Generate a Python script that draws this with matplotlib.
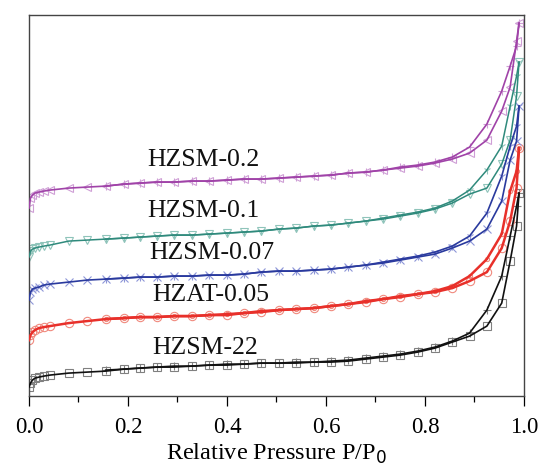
import matplotlib
matplotlib.use('Agg')
import matplotlib.pyplot as plt
from matplotlib.ticker import MultipleLocator

# relative pressure points (adsorption / desorption)
pp_ads = [0, 0.003, 0.007, 0.012, 0.02, 0.03, 0.042, 0.08, 0.117, 0.155, 0.192, 0.224,
          0.258, 0.293, 0.329, 0.364, 0.40, 0.434, 0.469, 0.505, 0.54, 0.575, 0.61, 0.645,
          0.68, 0.715, 0.75, 0.785, 0.82, 0.855, 0.89, 0.925, 0.955, 0.972, 0.985, 0.99]
pp_des = [0.99, 0.985, 0.972, 0.955, 0.925, 0.89, 0.855, 0.82, 0.785, 0.75, 0.715, 0.68,
          0.645, 0.61, 0.575, 0.54, 0.505, 0.469, 0.434, 0.40, 0.364, 0.329, 0.293, 0.258,
          0.224, 0.192, 0.155]

# adsorbed volume (offset, arbitrary units)
hzsm22_ads = [9, 13, 16, 18, 19, 20, 21, 23, 24, 25, 27, 28, 29, 29, 30, 31, 31, 32, 33, 33,
              33, 34, 34, 35, 37, 39, 41, 44, 48, 54, 60, 70, 93, 135, 170, 203]
hzsm22_des = [203, 190, 160, 120, 86, 63, 55, 49, 45, 42, 40, 38, 36, 35, 34, 34, 33, 33,
              32, 32, 31, 30, 30, 29, 28, 27, 26]

hzat005_ads = [56, 61, 64, 66, 68, 69, 70, 73, 75, 77, 78, 79, 79, 80, 80, 81, 81, 83, 84, 86,
               87, 88, 90, 92, 94, 97, 99, 102, 104, 108, 115, 124, 148, 175, 208, 248]
hzat005_des = [248, 225, 205, 162, 137, 120, 110, 105, 102, 100, 97, 95, 92, 90, 88, 87, 86,
               85, 83, 82, 81, 80, 80, 79, 79, 78, 77]

hzsm007_ads = [96, 104, 107, 108, 109, 111, 112, 114, 116, 117, 118, 119, 119, 120, 120, 121,
               121, 122, 124, 125, 125, 126, 127, 129, 131, 133, 136, 139, 142, 148, 155, 167,
               195, 236, 255, 290]
hzsm007_des = [290, 270, 250, 220, 183, 160, 150, 144, 140, 137, 134, 131, 129, 127, 126, 125,
               125, 124, 122, 121, 121, 120, 120, 119, 119, 118, 117]

hzsm01_ads = [139, 145, 147, 148, 149, 150, 151, 155, 156, 157, 158, 159, 160, 161, 161, 162,
              163, 164, 165, 167, 168, 170, 171, 173, 175, 177, 180, 183, 187, 193, 202, 208,
              232, 256, 300, 334]
hzsm01_des = [334, 320, 290, 250, 226, 206, 195, 188, 184, 181, 178, 175, 173, 171, 170, 168,
              167, 165, 164, 163, 162, 161, 161, 160, 159, 158, 157]

hzsm02_ads = [188, 198, 201, 203, 204, 205, 206, 208, 209, 210, 212, 213, 214, 214, 215, 215,
              216, 217, 217, 218, 219, 220, 221, 223, 224, 226, 228, 230, 233, 237, 243, 256,
              285, 309, 355, 373]
hzsm02_des = [373, 350, 330, 305, 272, 249, 239, 234, 231, 229, 226, 224, 223, 221, 220, 219,
              218, 217, 217, 216, 215, 215, 214, 214, 213, 212, 210]

labels = ['HZSM-22', 'HZAT-0.05', 'HZSM-0.07', 'HZSM-0.1', 'HZSM-0.2']
label_x = [0.356, 0.368, 0.369, 0.352, 0.352]
label_y = [48, 101, 143, 185, 236]

series = [
    (hzsm22_ads, hzsm22_des, '#111111', '#808080', 's', '+', 1.2),
    (hzat005_ads, hzat005_des, '#e8302a', '#f08a7e', 'o', '.', 1.8),
    (hzsm007_ads, hzsm007_des, '#2a3a9e', '#8e96d8', 'x', '1', 1.2),
    (hzsm01_ads, hzsm01_des, '#2f8a7c', '#8fc4ba', 'v', '1', 1.1),
    (hzsm02_ads, hzsm02_des, '#a043a8', '#cf9fd6', '<', '+', 1.2),
]

plt.rcParams['font.family'] = ['Liberation Serif', 'DejaVu Serif']

fig = plt.figure(figsize=(5.43, 4.71), dpi=100)
ax = fig.add_axes([0.0534, 0.159, 0.9116, 0.809])

for ads, des, col, mcol, m_a, m_d, lw in series:
    ax.plot(pp_ads, ads, color=col, lw=lw, zorder=3)
    ax.plot(pp_des, des, color=col, lw=lw, zorder=3)
    ax.plot(pp_ads, ads, ls='none', marker=m_a, ms=6, mfc='none', mec=mcol, mew=0.8, zorder=2)
    ax.plot(pp_des, des, ls='none', marker=m_d, ms=6, mfc='none', mec=mcol, mew=0.8, zorder=2)

for name, lx, ly in zip(labels, label_x, label_y):
    ax.text(lx, ly, name, fontsize=18.5, ha='center', va='center', color='#111111')

ax.set_xlim(0, 1.0)
ax.set_ylim(0, 381)
ax.xaxis.set_major_locator(MultipleLocator(0.2))
ax.xaxis.set_minor_locator(MultipleLocator(0.1))
ax.xaxis.set_major_formatter(matplotlib.ticker.FormatStrFormatter('%.1f'))
ax.tick_params(axis='x', which='major', direction='out', length=7, width=0.9, labelsize=16.5, pad=8)
ax.tick_params(axis='x', which='minor', direction='out', length=4.5, width=0.9)
ax.set_yticks([])
ax.set_xlabel('Relative Pressure P/P$_{\\mathrm{0}}$', fontsize=17.5, labelpad=3)
for sp in ax.spines.values():
    sp.set_color('#444444')
    sp.set_linewidth(1.0)

fig.savefig('out.png', dpi=100)
